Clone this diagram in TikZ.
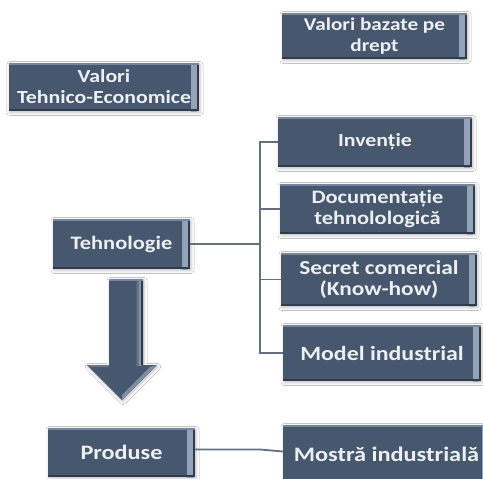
\documentclass[tikz,border=0pt]{standalone}
\usepackage{fontspec}
\setmainfont{Carlito}[FakeStretch=1.18]
\usetikzlibrary{shadows.blur}
\definecolor{boxfill}{RGB}{71,87,109}
\definecolor{boxlight}{RGB}{150,166,186}
\definecolor{boxdark}{RGB}{48,60,78}
\definecolor{boxtext}{RGB}{236,239,243}
\definecolor{connclr}{RGB}{100,113,128}
\tikzset{
  fs/.style={font=\fontsize{#1}{21}\selectfont\bfseries},
  bevelbox/.style={fill=boxfill, draw=none, text=boxtext, align=center,
    inner sep=0pt,
    blur shadow={shadow xshift=1pt, shadow yshift=-1.5pt, shadow blur radius=3pt, shadow opacity=25},
    path picture={
      \shade[left color=boxfill, right color=boxlight]
        ([xshift=-8pt]path picture bounding box.north east) rectangle
        ([xshift=-2pt]path picture bounding box.south east);
      \fill[boxdark] ([xshift=-2pt]path picture bounding box.north east) rectangle
        (path picture bounding box.south east);
      \fill[boxlight!60!boxfill] (path picture bounding box.north west) rectangle
        ([yshift=-1.5pt]path picture bounding box.north east);
      \fill[boxdark] ([yshift=2pt]path picture bounding box.south west) rectangle
        (path picture bounding box.south east);
    }},
  conn/.style={draw=connclr, line width=1.8pt}
}
\begin{document}
\begin{tikzpicture}[x=1pt,y=-1pt]
\useasboundingbox (0,0) rectangle (483,479);
\fill[white] (0,0) rectangle (483,479);
\begin{scope}
\clip (0,0) rectangle (483,479);
% boxes
\node[bevelbox, fs=18, minimum width=185pt, minimum height=46pt] (drept) at (374.5,36) {Valori bazate pe\\drept};
\node[bevelbox, fs=18.5, minimum width=190pt, minimum height=48pt] (vte) at (104,87) {Valori\\Tehnico-Economice};
\node[bevelbox, fs=18.5, minimum width=194pt, minimum height=50pt] (inv) at (375,142) {Invenție};
\node[bevelbox, fs=19, minimum width=195pt, minimum height=50pt] (doc) at (377.5,209) {Documentație\\tehnolologică};
\node[bevelbox, fs=19.8, minimum width=196pt, minimum height=53pt] (sec) at (379,279.5) {Secret comercial\\(Know-how)};
\node[bevelbox, fs=20.2, minimum width=198pt, minimum height=56pt] (model) at (382,353) {Model industrial};
\node[bevelbox, fs=19, minimum width=137pt, minimum height=50pt] (tech) at (121.5,244) {Tehnologie};
\node[bevelbox, fs=20.5, minimum width=147pt, minimum height=49pt] (prod) at (121.5,452.5) {Produse};
\node[bevelbox, fs=20.6, minimum width=207pt, minimum height=59pt] (most) at (386.5,454.5) {Mostră industrială};
% connectors
\coordinate (trk) at (260,0);
\draw[conn] (inv.west) -- (inv.west -| trk) -- (model.west -| trk) -- (model.west);
\draw[conn] (doc.west) -- (doc.west -| trk);
\draw[conn] (sec.west) -- (sec.west -| trk);
\draw[conn] (tech.east) -- (tech.east -| trk);
\draw[conn] ([yshift=3pt]prod.east) -- ([yshift=3pt]prod.east -| trk) -- ([yshift=3pt]most.west);
% block arrow
\fill[boxfill, blur shadow={shadow xshift=1pt, shadow yshift=-1.5pt, shadow blur radius=3pt, shadow opacity=25}]
  (109,279) -- (143,279) -- (143,365) -- (157,365) -- (122,400) -- (87,365) -- (109,365) -- cycle;
\shade[left color=boxfill, right color=boxlight] (135,281) rectangle (141,365);
\fill[boxdark] (141,281) rectangle (143,365);
\fill[boxlight!60!boxfill] (109,279) rectangle (143,280.5);
\fill[boxlight!70!boxfill] (157,365) -- (122,400) -- (122,395) -- (150,367) -- cycle;
\fill[boxlight!40!boxfill] (87,365) -- (109,365) -- (109,367) -- (91,367) -- cycle;
\end{scope}
\end{tikzpicture}
\end{document}
